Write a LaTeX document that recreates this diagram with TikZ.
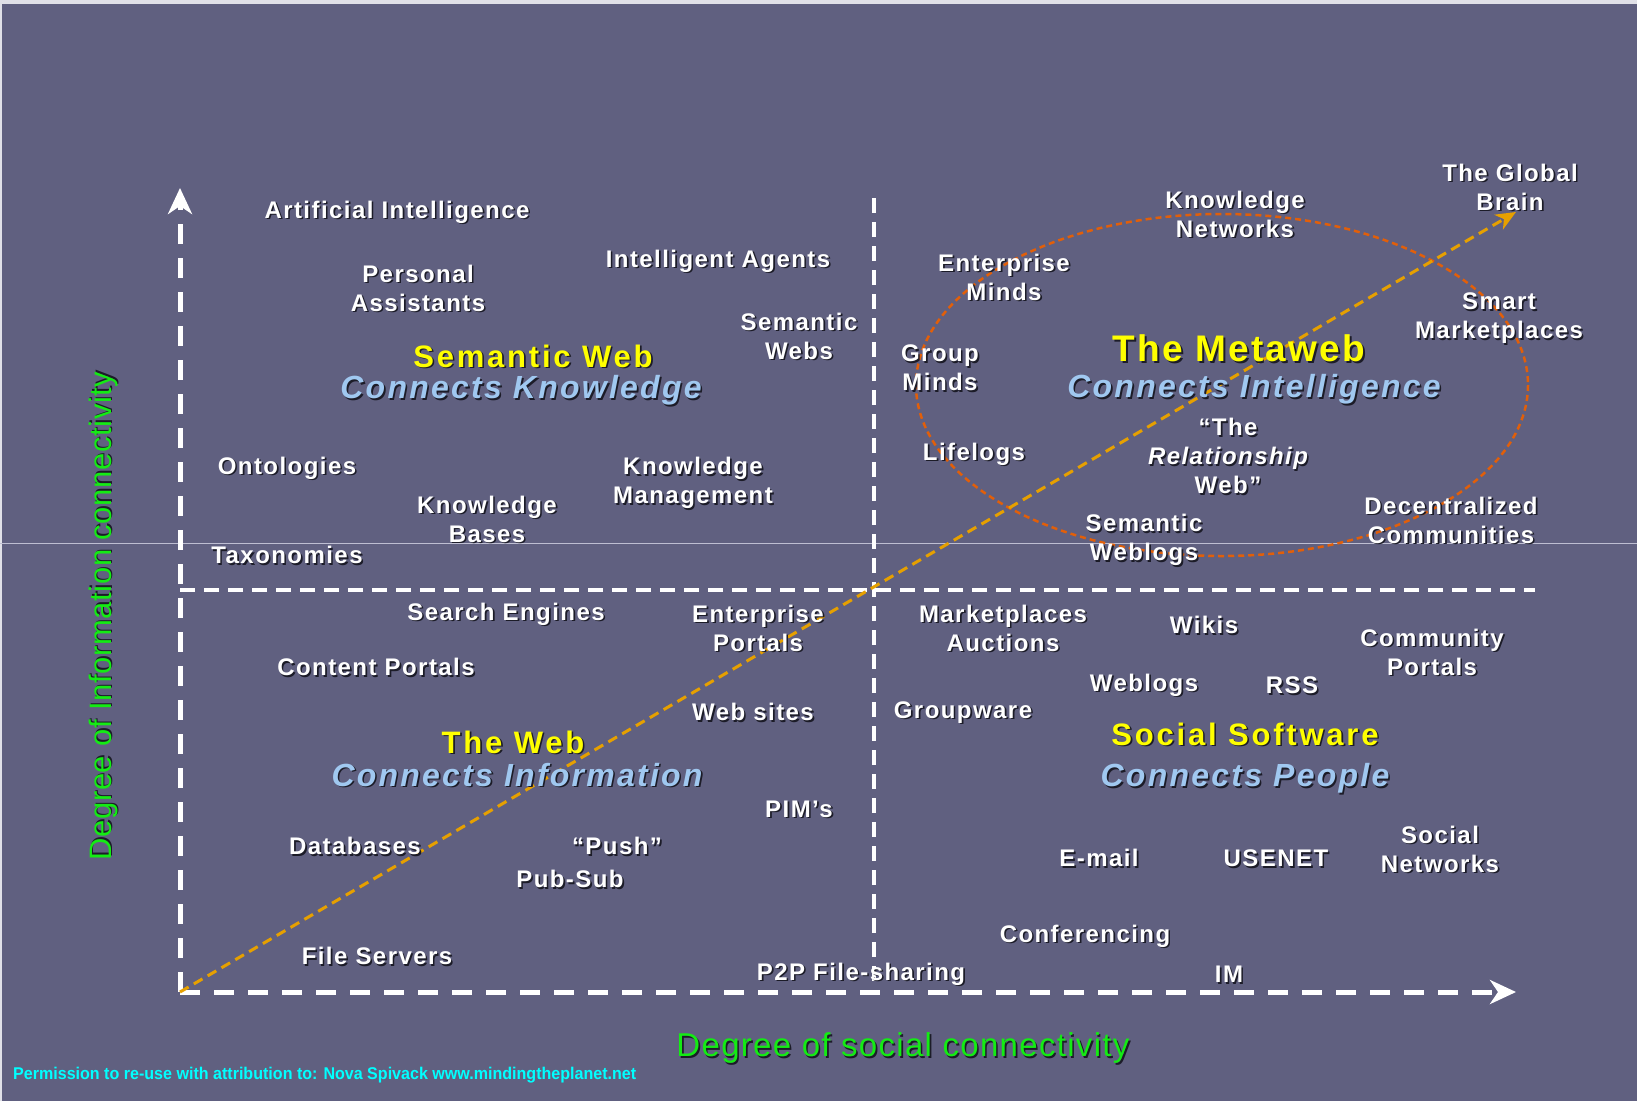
\documentclass[tikz,border=0pt]{standalone}
\usepackage{fontspec}
\setmainfont{Liberation Sans}
\newfontfamily\lblface{Liberation Sans}[LetterSpace=6]
\newfontfamily\ttlface{Liberation Sans}[LetterSpace=9]
\newfontfamily\metaface{Liberation Sans}[LetterSpace=6]
\newfontfamily\subface{Liberation Sans}[LetterSpace=7]
\newfontfamily\axface{Liberation Sans}[LetterSpace=4]
\newfontfamily\vaxface{Liberation Sans}[LetterSpace=2]
\newfontfamily\permface{Liberation Sans}
\usetikzlibrary{arrows.meta}
\definecolor{bgc}{RGB}{96,96,128}
\definecolor{framec}{RGB}{225,225,232}
\definecolor{shadowc}{RGB}{28,28,40}
\definecolor{ttlyellow}{RGB}{255,255,0}
\definecolor{subblue}{RGB}{160,200,240}
\definecolor{axgreen}{RGB}{20,235,20}
\definecolor{permcyan}{RGB}{0,255,255}
\definecolor{diagorange}{RGB}{230,160,0}
\definecolor{ringorange}{RGB}{225,95,10}
\definecolor{hairc}{RGB}{190,190,210}
\newcommand\sh[1]{\leavevmode\rlap{\kern1.6pt\raisebox{-1.6pt}{\color{shadowc}#1}}#1}
\begin{document}
\begin{tikzpicture}[x=1pt,y=-1pt,
  lbl/.style={text=white, font=\lblface\bfseries\fontsize{24}{29}\selectfont, align=center, inner sep=0pt, yshift=-3pt},
  ttl/.style={text=ttlyellow, font=\ttlface\bfseries\fontsize{31}{36}\selectfont, inner sep=0pt},
  meta/.style={text=ttlyellow, font=\metaface\bfseries\fontsize{37}{42}\selectfont, inner sep=0pt},
  sub/.style={text=subblue, font=\subface\bfseries\itshape\fontsize{32}{37}\selectfont, inner sep=0pt, yshift=-1.5pt},
  axlab/.style={text=axgreen, inner sep=0pt},
  axisline/.style={white, line width=5pt, dash pattern=on 20pt off 14pt,
     -{Stealth[length=26pt,width=24pt,inset=8pt]}},
  divider/.style={white, line width=4pt, dash pattern=on 15pt off 9pt},
  diag/.style={diagorange, line width=3pt, dash pattern=on 10pt off 6pt,
     -{Stealth[length=20pt,width=17pt,inset=6pt]}},
  ring/.style={ringorange, line width=2.5pt, dash pattern=on 6pt off 4pt},
  hair/.style={hairc, line width=1pt}
]
\fill[framec] (0,0) rectangle (1637,1101);
\fill[bgc] (2,4) rectangle (1637,1101);
\useasboundingbox (0,0) rectangle (1637,1101);
\coordinate (hairL) at (0,543);
\coordinate (hairR) at (1637,543);
\draw[hair] (hairL) -- (hairR);

\coordinate (O) at (180,992);
\coordinate (Ytip) at (180,188);
\coordinate (Xtip) at (1516,992);
\coordinate (Dtip) at (1516,212);
\coordinate (VdivT) at (874,198);
\coordinate (VdivB) at (874,992);
\coordinate (HdivL) at (180,590);
\coordinate (HdivR) at (1535,590);
\coordinate (ringC) at (1222,385);

\draw[divider] (VdivT) -- (VdivB);
\draw[divider] (HdivL) -- (HdivR);
\draw[ring] (ringC) ellipse [x radius=306, y radius=171];
\draw[axisline] (O) -- (Ytip);
\draw[axisline] (O) -- (Xtip);
\draw[diag] (O) -- (Dtip);

% upper left
\node[lbl] (ai) at (397,210) {\sh{Artificial Intelligence}};
\node[lbl] (pa) at (418,286) {\sh{Personal}\\\sh{Assistants}};
\node[lbl] (ia) at (718,259) {\sh{Intelligent Agents}};
\node[lbl] (sws) at (799,334) {\sh{Semantic}\\\sh{Webs}};
\node[ttl] (swt) at (533,357) {\sh{Semantic Web}};
\node[sub] (swc) at (521,390) {\sh{Connects Knowledge}};
\node[lbl] (ont) at (287,466) {\sh{Ontologies}};
\node[lbl] (kb) at (487,517) {\sh{Knowledge}\\\sh{Bases}};
\node[lbl] (km) at (693,481) {\sh{Knowledge}\\\sh{Management}};
\node[lbl] (tax) at (287,553) {\sh{Taxonomies}};

% upper right
\node[lbl] (kn) at (1235,212) {\sh{Knowledge}\\\sh{Networks}};
\node[lbl] (gb) at (1510,185) {\sh{The Global}\\\sh{Brain}};
\node[lbl] (emi) at (1004,275) {\sh{Enterprise}\\\sh{Minds}};
\node[lbl] (gm) at (940,366) {\sh{Group}\\\sh{Minds}};
\node[lbl] (sm) at (1499,316) {\sh{Smart}\\\sh{Marketplaces}};
\node[meta] (mwt) at (1239,349) {\sh{The Metaweb}};
\node[sub] (mwc) at (1254,389) {\sh{Connects Intelligence}};
\node[lbl] (rw) at (1228,454) {\sh{“The}\\\sh{\itshape Relationship}\\\sh{Web”}};
\node[lbl] (lif) at (974,452) {\sh{Lifelogs}};
\node[lbl] (swl) at (1144,538) {\sh{Semantic}\\\sh{Weblogs}};
\node[lbl] (dc) at (1451,518) {\sh{Decentralized}\\\sh{Communities}};

% lower left
\node[lbl] (se) at (506,612) {\sh{Search Engines}};
\node[lbl] (ep) at (758,626) {\sh{Enterprise}\\\sh{Portals}};
\node[lbl] (cp) at (376,665) {\sh{Content Portals}};
\node[lbl] (ws) at (753,710) {\sh{Web sites}};
\node[ttl] (webt) at (513,743) {\sh{The Web}};
\node[sub] (webc) at (517,774) {\sh{Connects Information}};
\node[lbl] (pim) at (799,807) {\sh{PIM’s}};
\node[lbl] (db) at (355,844) {\sh{Databases}};
\node[lbl] (push) at (617,844) {\sh{“Push”}};
\node[lbl] (ps) at (570,877) {\sh{Pub-Sub}};
\node[lbl] (fs) at (377,954) {\sh{File Servers}};
\node[lbl] (p2p) at (861,972) {\sh{P2P File-sharing}};

% lower right
\node[lbl] (ma) at (1003,626) {\sh{Marketplaces}\\\sh{Auctions}};
\node[lbl] (wik) at (1204,623) {\sh{Wikis}};
\node[lbl] (comp) at (1432,650) {\sh{Community}\\\sh{Portals}};
\node[lbl] (wl) at (1144,683) {\sh{Weblogs}};
\node[lbl] (rss) at (1292,683) {\sh{RSS}};
\node[lbl] (gw) at (963,710) {\sh{Groupware}};
\node[ttl] (sst) at (1245,735) {\sh{Social Software}};
\node[sub] (ssc) at (1245,778) {\sh{Connects People}};
\node[lbl] (sn) at (1440,847) {\sh{Social}\\\sh{Networks}};
\node[lbl] (mail) at (1099,856) {\sh{E-mail}};
\node[lbl] (use) at (1276,856) {\sh{USENET}};
\node[lbl] (conf) at (1085,934) {\sh{Conferencing}};
\node[lbl] (im) at (1229,972) {\sh{IM}};

% axis labels
\node[axlab, font=\axface\fontsize{33}{38}\selectfont] (xlab) at (903,1049) {\sh{Degree of social connectivity}};
\node[axlab, font=\vaxface\fontsize{31}{36}\selectfont, rotate=90] (ylab) at (104,616) {\sh{Degree of Information connectivity}};
\node[text=permcyan, font=\permface\bfseries\fontsize{17}{20}\selectfont, inner sep=0pt, anchor=west, xscale=0.945] (perm) at (13,1075) {Permission to re-use with attribution to: Nova Spivack www.mindingtheplanet.net};
\end{tikzpicture}
\end{document}
